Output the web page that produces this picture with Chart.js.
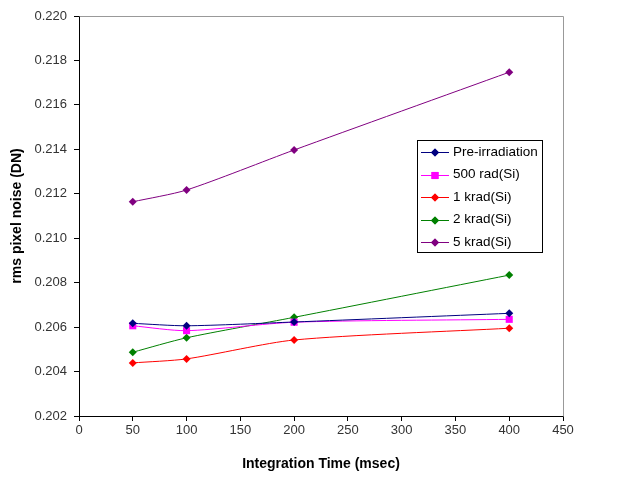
<!DOCTYPE html>
<html>
<head>
<meta charset="utf-8">
<script src="https://cdn.jsdelivr.net/npm/chart.js@4/dist/chart.umd.min.js"></script>
<style>
  html, body { margin: 0; padding: 0; background: #fff; }
  #wrap { width: 617px; height: 480px; position: relative; }
</style>
</head>
<body>
<div id="wrap"><canvas id="myChart"></canvas></div>
<script>
// data
const tiempos = [50, 100, 200, 400];
const series = ['Pre-irradiation', '500 rad(Si)', '1 krad(Si)', '2 krad(Si)', '5 krad(Si)'];
const preIrr = [0.20617, 0.20606, 0.20623, 0.20662];
const rad500 = [0.20606, 0.20584, 0.20622, 0.20635];
const krad1 = [0.20439, 0.20457, 0.20542, 0.20595];
const krad2 = [0.20487, 0.20552, 0.20644, 0.20834];
const krad5 = [0.21164, 0.21217, 0.21397, 0.21747];
const xTicks = [0, 50, 100, 150, 200, 250, 300, 350, 400, 450];
const yTicks = [0.202, 0.204, 0.206, 0.208, 0.210, 0.212, 0.214, 0.216, 0.218, 0.220];

const colores = ['#000080', '#ff00ff', '#ff0000', '#008000', '#800080'];
const estilos = ['rectRot', 'rect', 'rectRot', 'rectRot', 'rectRot'];
const radios = [4, 5, 4, 4, 4];
const valores = [preIrr, rad500, krad1, krad2, krad5];

const FUENTE = 'Arial, "Liberation Sans", sans-serif';

function hacerDataset(i) {
    return {
        label: series[i],
        data: tiempos.map((t, k) => ({ x: t, y: valores[i][k] })),
        borderColor: colores[i],
        backgroundColor: colores[i],
        borderWidth: 1,
        pointStyle: estilos[i],
        pointRadius: radios[i],
        pointBorderWidth: 0,
        tension: 0.25
    };
}

// legend box inside the plot plus gray top/right frame
const leyendaPlugin = {
    id: 'leyendaCaja',
    afterDatasetsDraw(chart) {
        const c = chart.ctx;
        const a = chart.chartArea;
        c.save();
        c.strokeStyle = '#999';
        c.lineWidth = 1;
        c.beginPath();
        c.moveTo(Math.round(a.left) + 0.5, Math.round(a.top) + 0.5);
        c.lineTo(Math.round(a.right) + 0.5, Math.round(a.top) + 0.5);
        c.lineTo(Math.round(a.right) + 0.5, Math.round(a.bottom) + 0.5);
        c.stroke();

        const bx = 417, by = 140, bw = 125, bh = 112;
        c.fillStyle = '#fff';
        c.fillRect(bx, by, bw, bh);
        c.strokeStyle = '#000';
        c.strokeRect(bx + 0.5, by + 0.5, bw, bh);
        c.font = '13.5px ' + FUENTE;
        c.textBaseline = 'middle';
        series.forEach((nombre, i) => {
            const y = 152 + i * 22.5;
            c.strokeStyle = colores[i];
            c.beginPath();
            c.moveTo(421, Math.round(y) + 0.5);
            c.lineTo(449, Math.round(y) + 0.5);
            c.stroke();
            c.fillStyle = colores[i];
            Chart.helpers.drawPoint(c, { pointStyle: estilos[i], radius: radios[i], borderWidth: 0 }, 435, Math.round(y) + 0.5);
            c.fill();
            c.fillStyle = '#000';
            c.fillText(nombre, 453, y);
        });
        c.restore();
    }
};

ctx = document.getElementById('myChart').getContext('2d');
const grafica = new Chart(ctx, {
    type: 'line',
    data: { datasets: series.map((s, i) => hacerDataset(i)) },
    options: {
        responsive: true,
        maintainAspectRatio: false,
        animation: false,
        layout: { padding: { top: 16, right: 54, left: 0, bottom: 0 } },
        plugins: { legend: { display: false }, tooltip: { enabled: false } },
        scales: {
            x: {
                type: 'linear',
                min: 0, max: 450,
                afterBuildTicks: s => { s.ticks = xTicks.map(v => ({ value: v })); },
                afterFit: s => { s.height = 64; },
                border: { color: '#000', width: 1 },
                grid: { drawOnChartArea: false, drawTicks: true, tickLength: 5, color: '#000' },
                ticks: { color: '#333', font: { family: FUENTE, size: 13 }, padding: 2, maxRotation: 0 },
                title: { display: true, text: 'Integration Time (msec)', color: '#000',
                         font: { family: FUENTE, size: 14, weight: 'bold' }, padding: { top: 4, bottom: 7 } }
            },
            y: {
                type: 'linear',
                min: 0.202, max: 0.220,
                afterBuildTicks: s => { s.ticks = yTicks.map(v => ({ value: v })); },
                afterFit: s => { s.width = 79; },
                border: { color: '#000', width: 1 },
                grid: { drawOnChartArea: false, drawTicks: true, tickLength: 5, color: '#000' },
                ticks: { color: '#333', font: { family: FUENTE, size: 13 }, padding: 7,
                         callback: v => v.toFixed(3) },
                title: { display: true, text: 'rms pixel noise (DN)', color: '#000',
                         font: { family: FUENTE, size: 14, weight: 'bold' }, padding: { top: 9, bottom: 4 } }
            }
        }
    },
    plugins: [leyendaPlugin]
});
</script>
</body>
</html>
